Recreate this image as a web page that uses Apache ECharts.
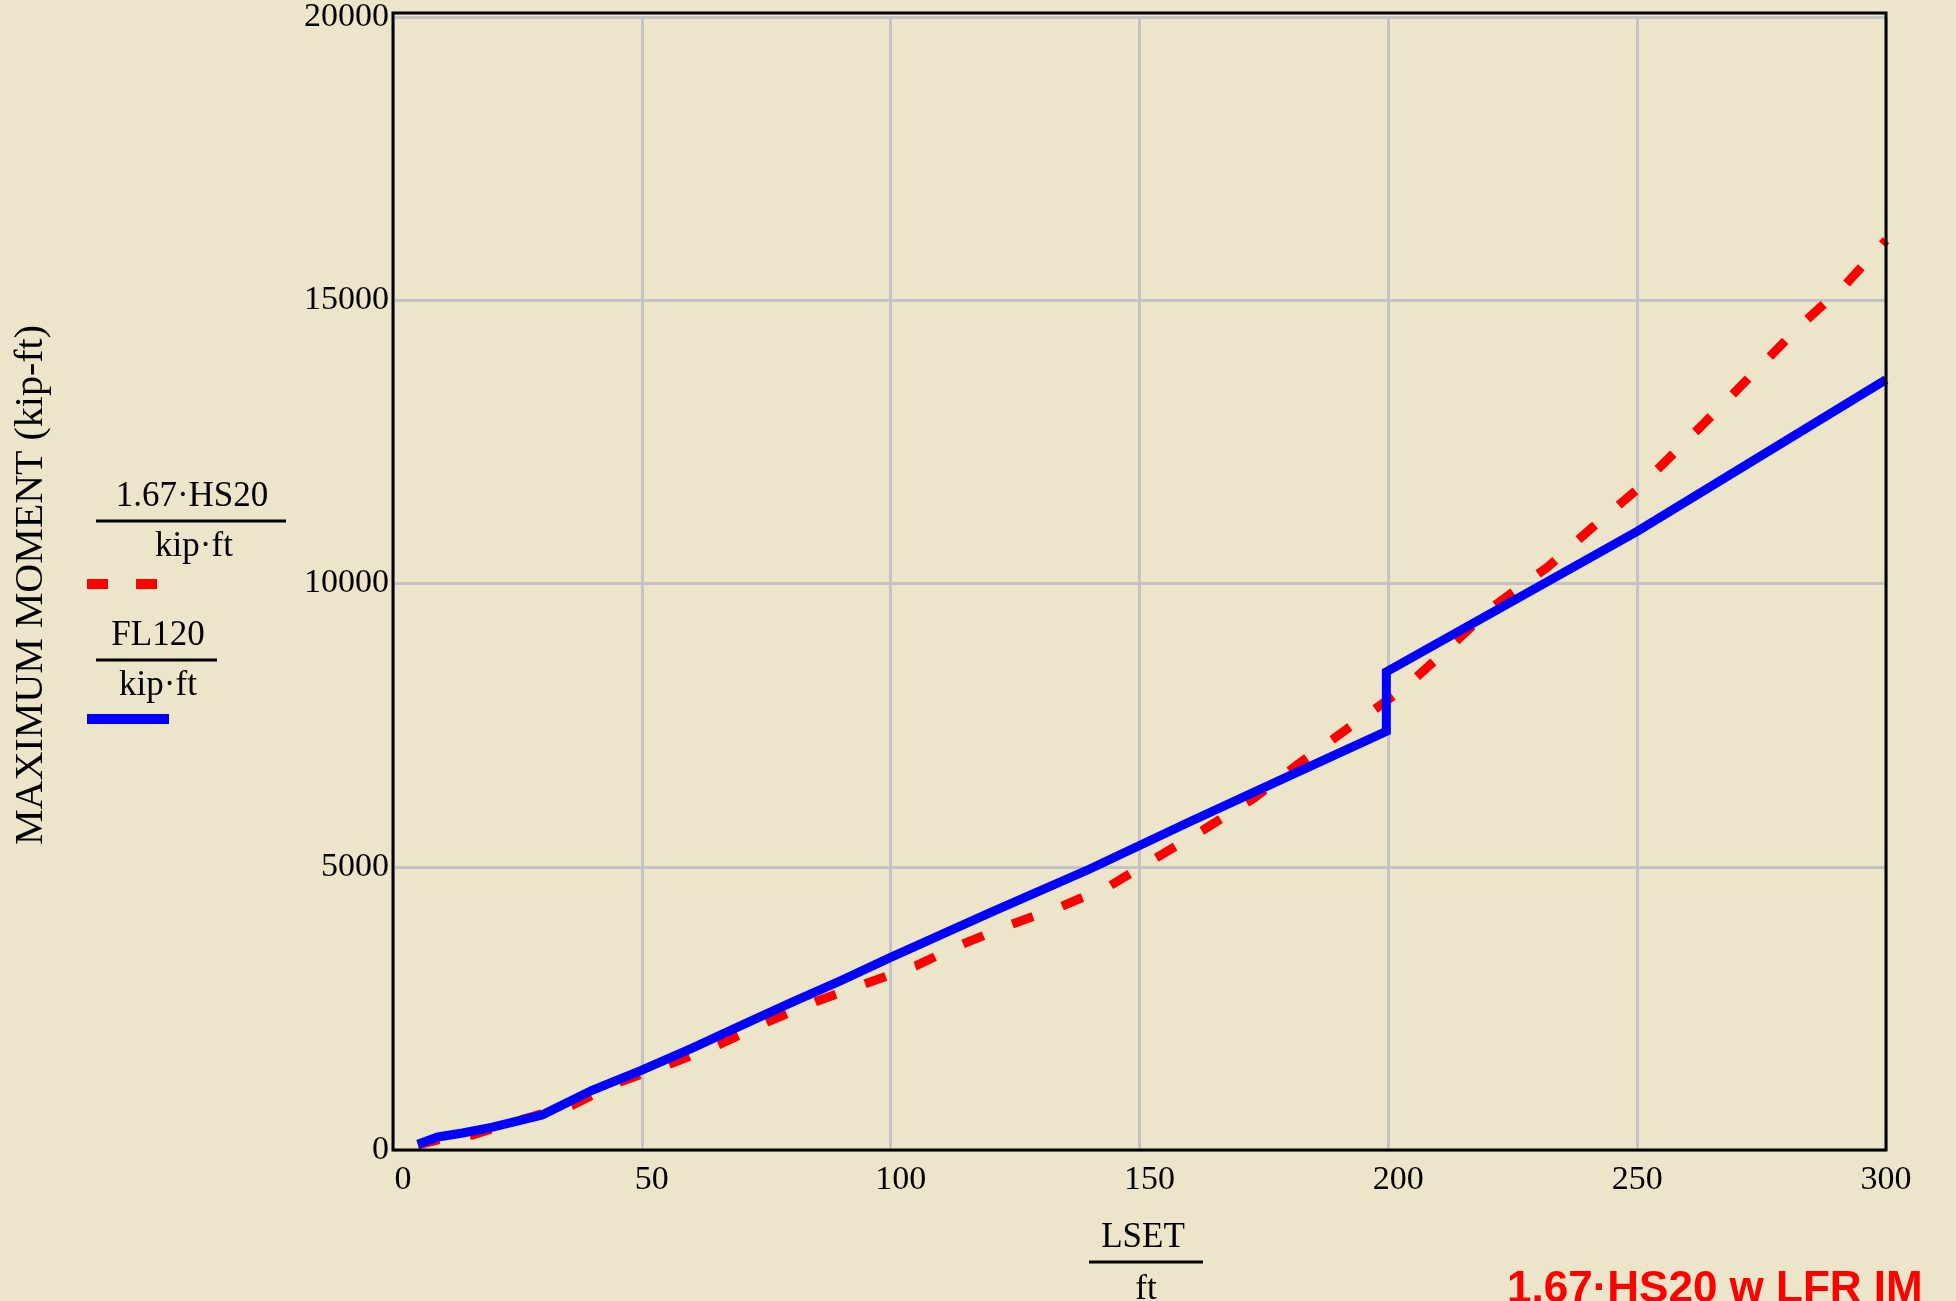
<!DOCTYPE html>
<html>
<head>
<meta charset="utf-8">
<script src="https://cdn.jsdelivr.net/npm/echarts@6/dist/echarts.min.js"></script>
<style>
html,body{margin:0;padding:0;background:#ECE5C9;}
#chart{width:1956px;height:1301px;}
</style>
</head>
<body>
<div id="chart"></div>
<script>
// ---- data ----
const lsetFL = [5, 9, 14, 20, 30, 40, 50, 60, 70, 80, 90, 100, 120, 140, 160, 180, 199.6, 199.6, 250, 300];
const fl120  = [100, 230, 300, 405, 620, 1055, 1410, 1795, 2200, 2600, 2990, 3400, 4190, 4960, 5790, 6600, 7390, 8440, 10920, 13600];

const lsetHS = [5, 10, 16, 26, 36, 45, 56, 66, 75, 85, 95, 105, 114, 124, 134, 144, 153, 163, 173, 182, 192, 203, 212, 221, 232, 241, 250, 259, 267, 275, 283, 292, 300];
const hs20   = [90, 200, 265, 540, 790, 1180, 1530, 1880, 2250, 2620, 2940, 3250, 3620, 3975, 4290, 4660, 5140, 5660, 6210, 6820, 7450, 8140, 8850, 9590, 10290, 10990, 11660, 12440, 13140, 13860, 14570, 15290, 16060];

const xTicks = [0, 50, 100, 150, 200, 250, 300];
const yTicks = [0, 5000, 10000, 15000, 20000];

const yTitle = 'MAXIMUM MOMENT (kip-ft)';
const xTitleTop = 'LSET', xTitleBottom = 'ft';
const leg1Top = '1.67·HS20', leg2Top = 'FL120', legUnit = 'kip·ft';
const note = '1.67·HS20 w LFR IM';

const serif = '"Liberation Serif", "DejaVu Serif", serif';
const sans = '"Liberation Sans", Arial, sans-serif';

const chart = echarts.init(document.getElementById('chart'), null, {renderer: 'canvas'});

function txt(x, y, s, size, opts) {
  return Object.assign({
    type: 'text', x: x, y: y, z: 50,
    style: {text: s, fill: '#000', font: size + 'px ' + serif, textAlign: 'center', textVerticalAlign: 'middle'}
  }, opts || {});
}
function ln(x1, y1, x2, y2, color, w, dash) {
  return {type: 'line', z: 50, shape: {x1: x1, y1: y1, x2: x2, y2: y2},
    style: {stroke: color, lineWidth: w, lineDash: dash || null, lineCap: 'butt'}};
}

chart.setOption({
  backgroundColor: '#ECE5C9',
  animation: false,
  grid: {left: 393, right: 70, top: 13, bottom: 151, show: false},
  xAxis: {
    type: 'value', min: xTicks[0], max: xTicks[xTicks.length - 1], interval: 50,
    axisLine: {show: false}, axisTick: {show: false},
    splitLine: {show: true, lineStyle: {color: '#C3C3C3', width: 3}},
    axisLabel: {fontFamily: serif, fontSize: 34, color: '#000', margin: 13,
      formatter: v => (v <= 200 ? '{s|' + v + '}' : '{n|' + v + '}'),
      rich: {
        s: {fontFamily: serif, fontSize: 34, color: '#000', padding: [0, 0, 0, 20]},
        n: {fontFamily: serif, fontSize: 34, color: '#000'}
      }}
  },
  yAxis: {
    type: 'value', min: yTicks[0], max: yTicks[yTicks.length - 1], interval: 5000,
    axisLine: {show: false}, axisTick: {show: false},
    splitLine: {show: true, lineStyle: {color: '#C3C3C3', width: 3}},
    axisLabel: {fontFamily: serif, fontSize: 34, color: '#000', margin: 4, padding: [8, 0, 0, 0], formatter: v => String(v)}
  },
  series: [
    {
      type: 'line', name: leg1Top, showSymbol: false, symbol: 'none',
      data: lsetHS.map((x, i) => [x, hs20[i]]),
      lineStyle: {color: '#FF0000', width: 9, type: [22, 31], cap: 'butt'}, z: 3
    },
    {
      type: 'line', name: leg2Top, showSymbol: false, symbol: 'none',
      data: lsetFL.map((x, i) => [x, fl120[i]]),
      lineStyle: {color: '#0000FF', width: 9, join: 'miter'}, z: 4
    }
  ],
  graphic: [
    // plot frame
    {type: 'rect', z: 100, shape: {x: 393, y: 13, width: 1493, height: 1137},
      style: {fill: null, stroke: '#000', lineWidth: 3}},
    txt(31, 585, yTitle, 40, {rotation: Math.PI / 2}),
    // legend
    txt(192, 497, leg1Top, 35),
    ln(96, 521, 286, 521, '#000', 3),
    txt(194, 547, legUnit, 35),
    ln(87, 584, 160, 584, '#FF0000', 10, [21, 28]),
    txt(158, 636, leg2Top, 35),
    ln(96, 660, 217, 660, '#000', 3),
    txt(158, 686, legUnit, 35),
    ln(87, 719, 169, 719, '#0000FF', 10),
    // x title
    txt(1143, 1238, xTitleTop, 35),
    ln(1089, 1262, 1203, 1262, '#000', 3),
    txt(1146, 1290, xTitleBottom, 35),
    // note
    {type: 'text', x: 1507, y: 1290, z: 50,
      style: {text: note, fill: '#FF0000', font: 'bold 44px ' + sans, textAlign: 'left', textVerticalAlign: 'middle'}}
  ]
});
</script>
</body>
</html>
